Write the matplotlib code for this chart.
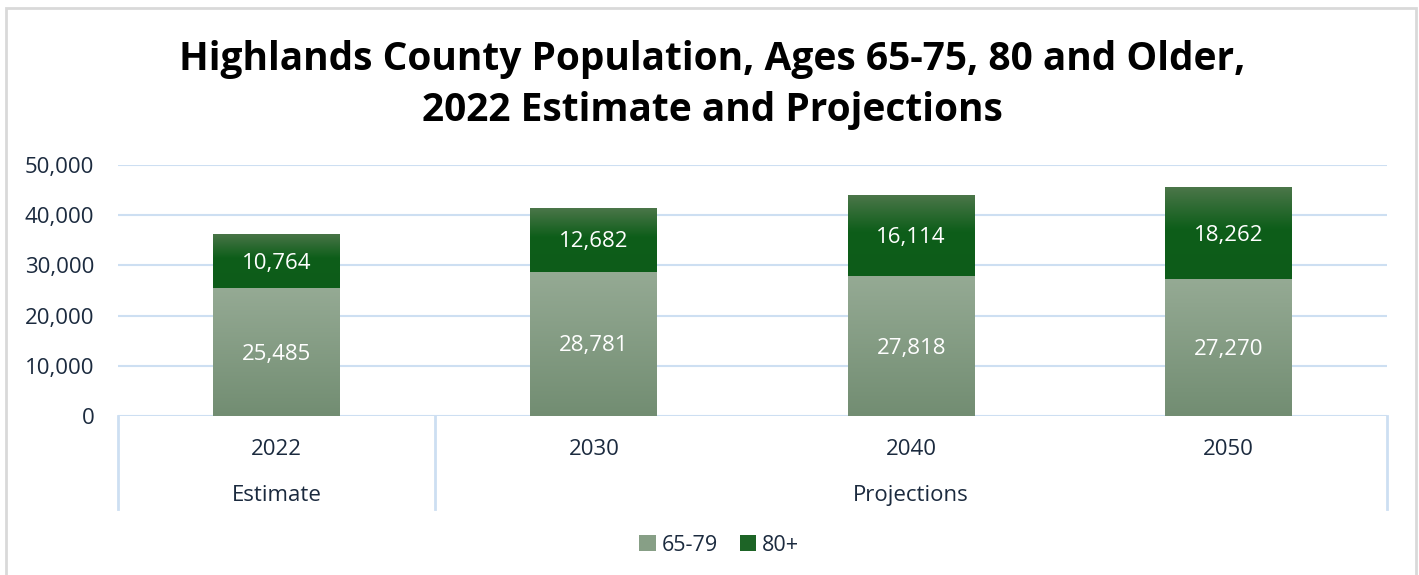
import matplotlib.pyplot as plt
import numpy as np
from matplotlib.colors import LinearSegmentedColormap
from matplotlib.patches import Rectangle, Patch

years = ['2022', '2030', '2040', '2050']
groups = ['Estimate', 'Projections']
group_sizes = [1, 3]
ages_65_79 = [25485, 28781, 27818, 27270]
ages_80_plus = [10764, 12682, 16114, 18262]

text_color = '#1b2a3e'
grid_color = '#cddff2'

plt.rcParams['font.family'] = ['Open Sans', 'DejaVu Sans']

fig = plt.figure(figsize=(14.19, 5.75), dpi=100)
ax = fig.add_axes([118 / 1419, 1 - 416 / 575, 1269 / 1419, 251 / 575])

# outer frame around the chart
fig.patches.append(Rectangle((6 / 1419, -0.05), 1410 / 1419, 1.05 - 8 / 575,
                             transform=fig.transFigure, fill=False,
                             edgecolor='#d9d9d9', linewidth=2, zorder=0))

x = np.arange(len(years))
width = 0.40

light_cmap = LinearSegmentedColormap.from_list('light', ['#728d72', '#95aa94'])
dark_cmap = LinearSegmentedColormap.from_list('dark', [(0, '#0d5c19'), (0.55, '#0e5e1a'), (1, '#4b7649')])

bars_low = ax.bar(x, ages_65_79, width, color='#879f86', zorder=2)
bars_high = ax.bar(x, ages_80_plus, width, bottom=ages_65_79, color='#1d6426', zorder=2)

# paint each segment with a vertical gradient clipped to the bar shape
grad = np.linspace(0, 1, 256).reshape(-1, 1)
for bars, cmap in [(bars_low, light_cmap), (bars_high, dark_cmap)]:
    for p in bars:
        x0, y0 = p.get_x(), p.get_y()
        im = ax.imshow(grad, cmap=cmap, origin='lower', aspect='auto',
                       extent=(x0, x0 + p.get_width(), y0, y0 + p.get_height()),
                       zorder=3)
        im.set_clip_path(p)

for i in range(len(years)):
    ax.text(x[i], ages_65_79[i] / 2 - 400, f'{ages_65_79[i]:,}', ha='center', va='center',
            color='white', fontsize=16, zorder=4)
    ax.text(x[i], ages_65_79[i] + ages_80_plus[i] / 2 - 400, f'{ages_80_plus[i]:,}',
            ha='center', va='center', color='white', fontsize=16, zorder=4)

ax.set_xlim(-0.5, len(years) - 0.5)
ax.set_ylim(0, 50000)
ax.set_yticks(np.arange(0, 50001, 10000))
ax.set_yticklabels([f'{v:,}' for v in range(0, 50001, 10000)])
ax.yaxis.grid(True, color=grid_color, linewidth=1.5, zorder=0)
ax.set_axisbelow(True)
for s in ax.spines.values():
    s.set_visible(False)
ax.tick_params(axis='y', length=0, pad=17, labelsize=16, labelcolor=text_color)
ax.set_xticks([])

# multi-level category axis
ax.axhline(0, color=grid_color, linewidth=2, zorder=1)
tr = ax.get_xaxis_transform()
for i, yr in enumerate(years):
    ax.text(x[i], -0.135, yr, transform=tr, ha='center', va='center',
            fontsize=16, color=text_color)
edges = [-0.5]
for n in group_sizes:
    edges.append(edges[-1] + n)
for e in edges:
    ax.plot([e, e], [0, -0.37], transform=tr, color=grid_color, linewidth=2,
            clip_on=False)
for g, n, e in zip(groups, group_sizes, edges):
    ax.text(e + n / 2, -0.316, g, transform=tr, ha='center', va='center',
            fontsize=16, color=text_color)

fig.text(0.502, 0.897, 'Highlands County Population, Ages 65-75, 80 and Older,',
         ha='center', va='center', fontsize=28, fontweight='bold', color='black')
fig.text(0.502, 0.808, '2022 Estimate and Projections',
         ha='center', va='center', fontsize=28, fontweight='bold', color='black')

handles = [Patch(facecolor='#879f86', label='65-79'), Patch(facecolor='#1d6426', label='80+')]
fig.legend(handles=handles, loc='center', bbox_to_anchor=(0.507, 0.052), ncol=2,
           frameon=False, fontsize=15.5, labelcolor=text_color, handlelength=0.75,
           handleheight=0.75, handletextpad=0.3, columnspacing=1.0)

fig.savefig('out.png', dpi=100)
